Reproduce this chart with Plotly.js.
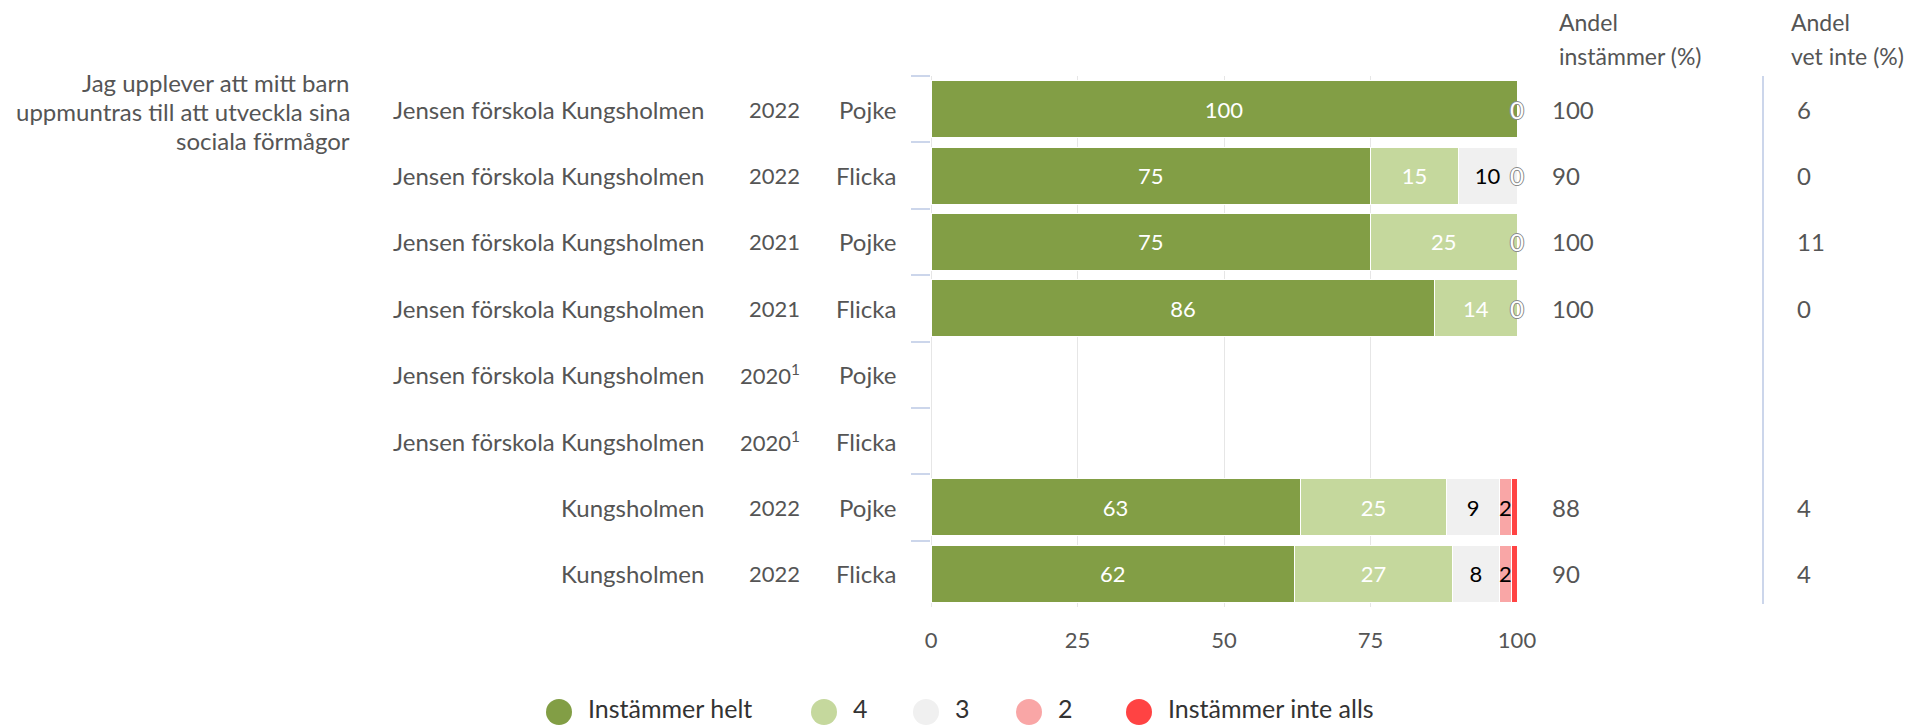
<!DOCTYPE html>
<html>
<head>
<meta charset="utf-8">
<script src="https://cdn.plot.ly/plotly-3.0.1.min.js"></script>
<style>html,body{margin:0;padding:0;background:#fff;}#chart{width:1919px;height:726px;}</style>
</head>
<body>
<div id="chart"></div>
<script>
// ---- data ----
const questionLines = ["Jag upplever att mitt barn","uppmuntras till att utveckla sina","sociala förmågor"];
const schools = ["Jensen förskola Kungsholmen","Jensen förskola Kungsholmen","Jensen förskola Kungsholmen","Jensen förskola Kungsholmen","Jensen förskola Kungsholmen","Jensen förskola Kungsholmen","Kungsholmen","Kungsholmen"];
const years = ["2022","2022","2021","2021","2020","2020","2022","2022"];
const yearNotes = ["","","","","1","1","",""];
const genders = ["Pojke","Flicka","Pojke","Flicka","Pojke","Flicka","Pojke","Flicka"];
const seriesNames = ["Instämmer helt","4","3","2","Instämmer inte alls"];
const seriesColors = ["#829e45","#c5d89d","#f0f0f0","#f9a6a6","#ff4343"];
const labelColors = ["#ffffff","#ffffff","#000000","#000000","#ffffff"];
const instammerHelt = [100,75,75,86,null,null,63,62];
const s4 = [0,15,25,14,null,null,25,27];
const s3 = [0,10,0,0,null,null,9,8];
const s2 = [0,0,0,0,null,null,2,2];
const instammerInteAlls = [0,0,0,0,null,null,1,1];
const andelInstammer = [100,90,100,100,null,null,88,90];
const andelVetInte = [6,0,11,0,null,null,4,4];
const headerInstammer = ["Andel","instämmer (%)"];
const headerVetInte = ["Andel","vet inte (%)"];

// ---- layout constants ----
const W = 1919, H = 726;
const L = 931, R = 1517, T = 76, B = 607;
const FONT = "Lato, 'Open Sans', sans-serif";
const TXT = "#555555";
const px = x => (x - L) / (R - L);
const py = y => (B - y) / (B - T);

const cats = schools.map((s, i) => s + " " + years[i] + " " + genders[i]);
const seriesValues = [instammerHelt, s4, s3, s2, instammerInteAlls];

const traces = seriesValues.map((vals, k) => ({
  type: "bar",
  orientation: "h",
  name: seriesNames[k],
  y: cats,
  x: vals,
  marker: {color: seriesColors[k], line: {color: "#ffffff", width: 1}},
  text: vals.map(v => (v && k < 4) ? String(v) : null),
  textposition: "inside",
  insidetextanchor: "middle",
  textangle: 0,
  textfont: {family: FONT, size: 22, color: labelColors[k]},
  hoverinfo: "x+name",
  showlegend: false
}));

const annotations = [];
const shapes = [];

// question text (one annotation per line)
const qY = [82, 111, 141];
questionLines.forEach((t, j) => annotations.push({xref: "paper", yref: "paper", x: px(352), y: py(qY[j]),
  xanchor: "right", yanchor: "middle", text: t, showarrow: false, font: {family: FONT, size: 24, color: TXT}}));

// category columns
cats.forEach((c, i) => {
  annotations.push({xref: "paper", yref: "y", x: px(706), y: c, xanchor: "right", yanchor: "middle",
    text: schools[i], showarrow: false, font: {family: FONT, size: 24, color: TXT}});
  annotations.push({xref: "paper", yref: "y", x: px(802), y: c, xanchor: "right", yanchor: "middle",
    text: years[i] + (yearNotes[i] ? "<sup>" + yearNotes[i] + "</sup>" : ""), showarrow: false,
    font: {family: FONT, size: 22, color: TXT}});
  annotations.push({xref: "paper", yref: "y", x: px(898), y: c, xanchor: "right", yanchor: "middle",
    text: genders[i], showarrow: false, font: {family: FONT, size: 24, color: TXT}});
  if (andelInstammer[i] !== null) {
    annotations.push({xref: "paper", yref: "y", x: px(1550), y: c, xanchor: "left", yanchor: "middle",
      text: String(andelInstammer[i]), showarrow: false, font: {family: FONT, size: 24, color: TXT}});
  }
  if (andelVetInte[i] !== null) {
    annotations.push({xref: "paper", yref: "y", x: px(1795), y: c, xanchor: "left", yanchor: "middle",
      text: String(andelVetInte[i]), showarrow: false, font: {family: FONT, size: 24, color: TXT}});
  }
  // zero-value labels at the end of the stack
  const vals = seriesValues.map(s => s[i]);
  if (vals[0] !== null && vals.some(v => v === 0)) {
    const total = vals.reduce((a, b) => a + (b || 0), 0);
    annotations.push({xref: "x", yref: "y", x: total, y: c, xanchor: "center", yanchor: "middle",
      text: "0", showarrow: false,
      font: {family: FONT, size: 24, color: "#ffffff",
        shadow: "1px 0 0 #8a8a8a, -1px 0 0 #8a8a8a, 0 1px 0 #8a8a8a, 0 -1px 0 #8a8a8a"}});
  }
});

// headers
headerInstammer.forEach((t, j) => annotations.push({xref: "paper", yref: "paper", x: px(1557), y: py(j ? 56 : 22),
  xanchor: "left", yanchor: "middle", text: t, showarrow: false, font: {family: FONT, size: 23, color: TXT}}));
headerVetInte.forEach((t, j) => annotations.push({xref: "paper", yref: "paper", x: px(1789), y: py(j ? 56 : 22),
  xanchor: "left", yanchor: "middle", text: t, showarrow: false, font: {family: FONT, size: 23, color: TXT}}));

// separator line
shapes.push({type: "line", xref: "paper", yref: "paper", x0: px(1763), x1: px(1763), y0: py(604), y1: 1,
  line: {color: "#ccd6eb", width: 2}});

// legend (circles + text)
const legCircleX = [559, 824, 926, 1029, 1139];
seriesNames.forEach((n, k) => {
  shapes.push({type: "circle", xref: "paper", yref: "paper", xsizemode: "pixel", ysizemode: "pixel",
    xanchor: px(legCircleX[k]), yanchor: py(712), x0: -13, x1: 13, y0: -13, y1: 13,
    fillcolor: seriesColors[k], line: {width: 0}});
  annotations.push({xref: "paper", yref: "paper", x: px(legCircleX[k] + 28), y: py(708), xanchor: "left", yanchor: "middle",
    text: n, showarrow: false, borderpad: 0, font: {family: FONT, size: 25, color: "#333333"}});
});

const layout = {
  width: W, height: H,
  margin: {l: L, r: W - R, t: T, b: H - B, pad: 0},
  paper_bgcolor: "#ffffff", plot_bgcolor: "#ffffff",
  barmode: "stack", bargap: 0.14,
  uniformtext: {mode: "show", minsize: 22},
  font: {family: FONT, color: TXT},
  xaxis: {range: [0, 100], tickvals: [0, 25, 50, 75, 100], showgrid: true, gridcolor: "#e6e6e6", gridwidth: 1,
    zeroline: true, zerolinecolor: "#e6e6e6", zerolinewidth: 1, showline: false, ticks: "",
    ticklabelstandoff: 18, tickfont: {family: FONT, size: 22, color: TXT}, fixedrange: true},
  yaxis: {type: "category", categoryorder: "array", categoryarray: cats, range: [7.5, -0.5],
    showticklabels: false, showgrid: false, zeroline: false, showline: false,
    ticks: "outside", tickson: "boundaries", ticklen: 19, tickwidth: 2, tickcolor: "#ccd6eb", fixedrange: true},
  annotations: annotations,
  shapes: shapes,
  showlegend: false
};

Plotly.newPlot("chart", traces, layout, {displayModeBar: false, staticPlot: true});
</script>
</body>
</html>
